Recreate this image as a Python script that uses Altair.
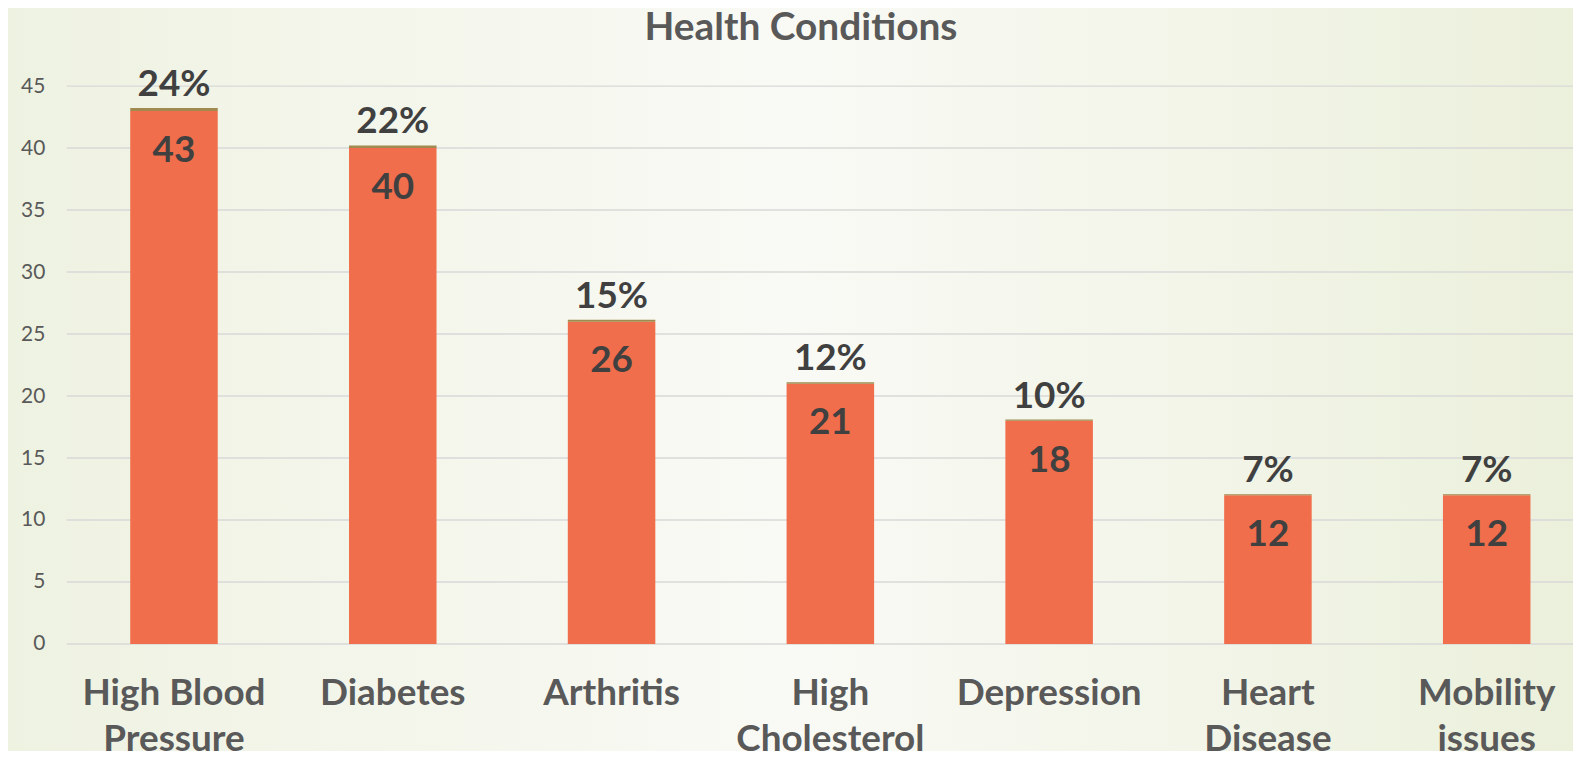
import altair as alt
import pandas as pd

title_text = "Health Conditions"
categories = ["High Blood Pressure", "Diabetes", "Arthritis", "High Cholesterol",
              "Depression", "Heart Disease", "Mobility issues"]
counts = [43, 40, 26, 21, 18, 12, 12]
pcts = [0.24, 0.22, 0.15, 0.12, 0.10, 0.07, 0.07]
pct_labels = ["24%", "22%", "15%", "12%", "10%", "7%", "7%"]
label_lines = [["High Blood", "Pressure"], ["Diabetes"], ["Arthritis"], ["High", "Cholesterol"],
               ["Depression"], ["Heart", "Disease"], ["Mobility", "issues"]]
y_ticks = [0, 5, 10, 15, 20, 25, 30, 35, 40, 45]

df = pd.DataFrame({"cat": categories, "count": counts, "pct": pcts, "pct_label": pct_labels})
df["top"] = df["count"] + df["pct"]
grid_df = pd.DataFrame({"v": y_ticks})
title_df = pd.DataFrame({"t": [title_text]})

W, H = 1506, 560
PL, PT, PR, PB = 59, 77, 6, 106
XR = 1533

expr = "''"
for c, lines in zip(categories, label_lines):
    arr = "[" + ",".join("'" + l + "'" for l in lines) + "]"
    expr = f"datum.label == '{c}' ? {arr} : (" + expr + ")"

FONT = "Lato"
GRAY = "#595959"
DARK = "#404040"

x = alt.X("cat:N", sort=categories, title=None,
          scale=alt.Scale(range=[0, XR], paddingInner=0.6, paddingOuter=0.29),
          axis=alt.Axis(labelExpr=expr, labelAngle=0, labelFont=FONT, labelFontSize=37,
                        labelFontWeight="bold", labelColor=GRAY, labelPadding=32,
                        labelLineHeight=46, ticks=False, domain=False, grid=False,
                        labelLimit=500, labelBaseline="top", zindex=2))
y_scale = alt.Scale(domain=[0, 45], nice=False)

bg = alt.Chart(pd.DataFrame({"a": [0]})).mark_rect(
    fill=alt.LinearGradient(gradient="linear", x1=0, x2=1, y1=0, y2=0,
                            stops=[alt.GradientStop(offset=0, color="#eef2e1"),
                                   alt.GradientStop(offset=0.5, color="#f9faf5"),
                                   alt.GradientStop(offset=1, color="#ebf0db")])
).encode(x=alt.value(-PL - 8), x2=alt.value(W + 20), y=alt.value(-PT - 8), y2=alt.value(H + PB + 10))

grid = alt.Chart(grid_df).mark_rule(color="#d9d9d9", strokeWidth=1.5).encode(
    y=alt.Y("v:Q", scale=y_scale), x=alt.value(0), x2=alt.value(W + PR))

title = alt.Chart(title_df).mark_text(font=FONT, fontSize=39, fontWeight="bold", color=GRAY,
                                      baseline="alphabetic", align="center").encode(
    text="t:N", x=alt.value(737), y=alt.value(-46))

base = alt.Chart(df)

bars = base.mark_bar(color="#F06E4B").encode(
    x=x,
    y=alt.Y("count:Q", scale=y_scale, title=None,
            axis=alt.Axis(values=y_ticks, labelFont=FONT, labelFontSize=21, labelColor=GRAY,
                          labelPadding=22, ticks=False, domain=False, grid=False, zindex=2)),
)
tops = base.mark_bar(color="#a08a4f").encode(x=x, y=alt.Y("count:Q", scale=y_scale), y2="top:Q")

count_text = base.mark_text(font=FONT, fontSize=37, fontWeight="bold", color=DARK,
                            baseline="middle", dy=40).encode(
    x=x, y=alt.Y("count:Q", scale=y_scale), text="count:Q")
pct_text = base.mark_text(font=FONT, fontSize=37, fontWeight="bold", color=DARK,
                          baseline="alphabetic", dy=-12).encode(
    x=x, y=alt.Y("top:Q", scale=y_scale), text="pct_label:N")

chart = alt.layer(bg, grid, bars, tops, count_text, pct_text, title).properties(
    width=W, height=H,
    padding={"left": PL, "top": PT, "right": PR, "bottom": PB},
    autosize=alt.AutoSizeParams(type="none"),
).configure_view(stroke=None).configure(background="#f3f6ea")

chart.save("out.html", embed_options={"renderer": "svg", "actions": False})
